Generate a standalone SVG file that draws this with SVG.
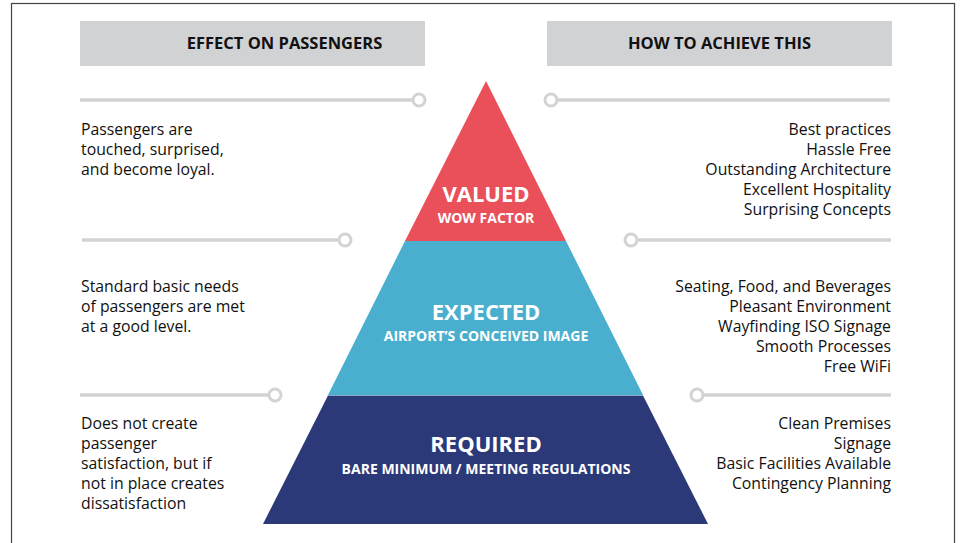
<svg xmlns="http://www.w3.org/2000/svg" width="961" height="543" viewBox="0 0 961 543">
<style>
.hdr{fill:#d1d2d4}
.ht{font-family:"Open Sans",sans-serif;font-weight:700;font-size:16.5px;fill:#111}
.ln{stroke:#d3d3d3;stroke-width:3.5;fill:none}
.dot{stroke:#d3d3d3;stroke-width:3;fill:#fff}
.bt{font-family:"Open Sans",sans-serif;font-size:15.8px;fill:#111}
.r{text-anchor:end}
.big{font-family:"Open Sans",sans-serif;font-weight:700;font-size:22px;fill:#fff;text-anchor:middle}
.sm{font-family:"Open Sans",sans-serif;font-weight:700;font-size:14px;fill:#fff;text-anchor:middle}
</style>
<rect x="0" y="0" width="961" height="543" fill="#fff"/>
<rect x="11.5" y="3.5" width="943" height="560" fill="none" stroke="#444" stroke-width="1.2"/>
<g id="header-left"><rect class="hdr" x="80" y="21" width="345" height="45"/><text class="ht" x="284.5" y="49" text-anchor="middle">EFFECT ON PASSENGERS</text></g>
<g id="header-right"><rect class="hdr" x="547" y="21" width="345" height="45"/><text class="ht" x="719.5" y="49" text-anchor="middle">HOW TO ACHIEVE THIS</text></g>
<g id="connectors">
<line class="ln" x1="80" y1="100" x2="413" y2="100"/><circle class="dot" cx="419" cy="100" r="6"/>
<line class="ln" x1="557" y1="100" x2="890" y2="100"/><circle class="dot" cx="551" cy="100" r="6"/>
<line class="ln" x1="82" y1="240" x2="339" y2="240"/><circle class="dot" cx="345" cy="240" r="6"/>
<line class="ln" x1="637" y1="240" x2="891" y2="240"/><circle class="dot" cx="631" cy="240" r="6"/>
<line class="ln" x1="80" y1="395" x2="269" y2="395"/><circle class="dot" cx="275" cy="395" r="6"/>
<line class="ln" x1="703" y1="395" x2="891" y2="395"/><circle class="dot" cx="697" cy="395" r="6"/>
</g>
<g id="tier-valued">
<polygon points="486,81 566,241 405,241" fill="#ea505a"/>
<text class="big" x="486" y="202">VALUED</text>
<text class="sm" x="486" y="223">WOW FACTOR</text>
</g>
<g id="tier-expected">
<polygon points="405,241 566,241 643,395 328,395" fill="#4aafce"/>
<text class="big" x="486" y="320">EXPECTED</text>
<text class="sm" x="486" y="341">AIRPORT’S CONCEIVED IMAGE</text>
</g>
<g id="tier-required">
<polygon points="328,395.5 643,395.5 708,524 263,524" fill="#2b3978"/>
<line x1="328" y1="395.5" x2="643" y2="395.5" stroke="#8fa3c8" stroke-width="1"/>
<text class="big" x="486" y="452">REQUIRED</text>
<text class="sm" x="486" y="474">BARE MINIMUM / MEETING REGULATIONS</text>
</g>
<g id="effect-valued"><text class="bt" x="81" y="135">Passengers are</text><text class="bt" x="81" y="155">touched, surprised,</text><text class="bt" x="81" y="175">and become loyal.</text></g>
<g id="effect-expected"><text class="bt" x="81" y="292">Standard basic needs</text><text class="bt" x="81" y="312">of passengers are met</text><text class="bt" x="81" y="332">at a good level.</text></g>
<g id="effect-required"><text class="bt" x="81" y="429">Does not create</text><text class="bt" x="81" y="449">passenger</text><text class="bt" x="81" y="469">satisfaction, but if</text><text class="bt" x="81" y="489">not in place creates</text><text class="bt" x="81" y="509">dissatisfaction</text></g>
<g id="achieve-valued"><text class="bt r" x="891" y="135">Best practices</text><text class="bt r" x="891" y="155">Hassle Free</text><text class="bt r" x="891" y="175">Outstanding Architecture</text><text class="bt r" x="891" y="195">Excellent Hospitality</text><text class="bt r" x="891" y="215">Surprising Concepts</text></g>
<g id="achieve-expected"><text class="bt r" x="891" y="292">Seating, Food, and Beverages</text><text class="bt r" x="891" y="312">Pleasant Environment</text><text class="bt r" x="891" y="332">Wayfinding ISO Signage</text><text class="bt r" x="891" y="352">Smooth Processes</text><text class="bt r" x="891" y="372">Free WiFi</text></g>
<g id="achieve-required"><text class="bt r" x="891" y="429">Clean Premises</text><text class="bt r" x="891" y="449">Signage</text><text class="bt r" x="891" y="469">Basic Facilities Available</text><text class="bt r" x="891" y="489">Contingency Planning</text></g>
</svg>
